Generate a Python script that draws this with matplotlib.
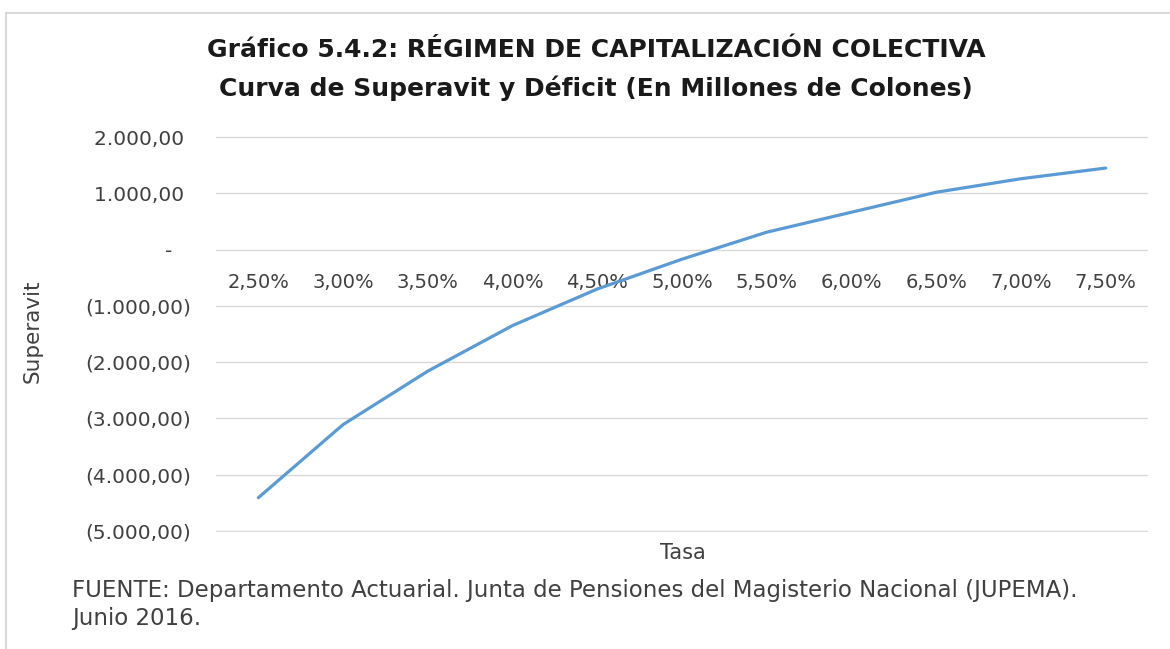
import matplotlib.pyplot as plt
from matplotlib.patches import Rectangle

# Data (millions of colones).
tasas = ["2,50%", "3,00%", "3,50%", "4,00%", "4,50%", "5,00%",
         "5,50%", "6,00%", "6,50%", "7,00%", "7,50%"]
superavit = [-4410, -3110, -2160, -1350, -700, -170,
             310, 665, 1020, 1260, 1450]

y_ticks = [2000, 1000, 0, -1000, -2000, -3000, -4000, -5000]
y_labels = ["2.000,00 ", "1.000,00 ", "-   ", "(1.000,00)", "(2.000,00)",
            "(3.000,00)", "(4.000,00)", "(5.000,00)"]

LINE_COLOR = "#5B9BD5"
TEXT_COLOR = "#404040"
GRID_COLOR = "#D9D9D9"

plt.rcParams["font.family"] = ["DejaVu Sans"]

W, H = 1170, 649
fig = plt.figure(figsize=(W / 100, H / 100), dpi=100)

# Chart frame (light gray border, cut off at right/bottom like the screenshot)
fig.patches.append(Rectangle((6 / W, -0.1), 1.2, 1 - 13 / H + 0.1,
                             transform=fig.transFigure, fill=False,
                             edgecolor=GRID_COLOR, linewidth=1.5))

ax = fig.add_axes([216 / W, 1 - 532 / H, (1148 - 216) / W, (532 - 136) / H])

x = list(range(len(tasas)))
ax.plot(x, superavit, color=LINE_COLOR, linewidth=2.3, solid_capstyle="round")

ax.set_xlim(-0.5, len(tasas) - 0.5)
ax.set_ylim(-5020, 2020)
ax.set_yticks(y_ticks)
ax.set_yticklabels(y_labels, fontsize=14.5, color=TEXT_COLOR)
ax.yaxis.grid(True, color=GRID_COLOR, linewidth=1)
ax.set_axisbelow(True)
ax.tick_params(axis="y", length=0, pad=18)

# Category labels sit just under the zero line, as Excel does
ax.spines["bottom"].set_position(("data", 0))
for s in ["top", "right", "left", "bottom"]:
    ax.spines[s].set_visible(False)
ax.set_xticks(x)
ax.set_xticklabels(tasas, fontsize=14, color=TEXT_COLOR)
ax.tick_params(axis="x", length=0, pad=17)

fig.text(33 / W, 1 - 331 / H, "Superavit", rotation=90, fontsize=15.5,
         color=TEXT_COLOR, ha="center", va="center")
fig.text(683 / W, 1 - 553 / H, "Tasa", fontsize=15, color=TEXT_COLOR,
         ha="center", va="center")

fig.text(596 / W, 1 - 50 / H, "Gráfico 5.4.2: RÉGIMEN DE CAPITALIZACIÓN COLECTIVA",
         fontsize=18, fontweight="bold", color="#1a1a1a", ha="center", va="center")
fig.text(596 / W, 1 - 88 / H, "Curva de Superavit y Déficit (En Millones de Colones)",
         fontsize=18, fontweight="bold", color="#1a1a1a", ha="center", va="center")

fig.text(72 / W, 1 - 591 / H,
         "FUENTE: Departamento Actuarial. Junta de Pensiones del Magisterio Nacional (JUPEMA).",
         fontsize=16.5, color=TEXT_COLOR, ha="left", va="center")
fig.text(72 / W, 1 - 619 / H, "Junio 2016.", fontsize=16.5, color=TEXT_COLOR,
         ha="left", va="center")

fig.savefig("out.png", dpi=100)
